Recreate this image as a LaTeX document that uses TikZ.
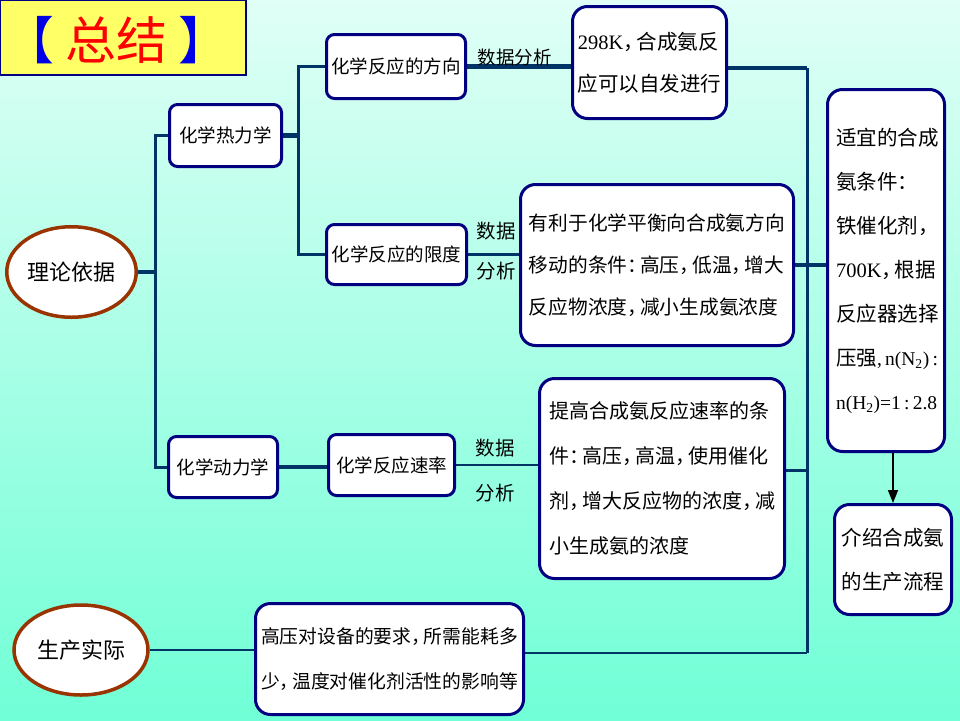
\documentclass[tikz,border=0pt]{standalone}
\usepackage{fontspec}
\setmainfont{Noto Sans CJK SC}
\newfontfamily\lat{Liberation Serif}
\usetikzlibrary{shapes.geometric,arrows.meta}
\definecolor{bgtop}{RGB}{224,255,246}
\definecolor{bgbot}{RGB}{112,255,214}
\definecolor{boxblue}{RGB}{0,0,128}
\definecolor{linec}{RGB}{0,51,102}
\definecolor{brownc}{RGB}{153,51,0}
\definecolor{titley}{RGB}{255,255,102}
\definecolor{brblue}{RGB}{0,0,230}
\definecolor{titred}{RGB}{255,0,0}
\newcommand{\fsz}[2]{\fontsize{#1}{#2}\selectfont}
\newcommand{\cma}{\makebox[0.65em][l]{，}}
\newcommand{\cln}{\makebox[0.65em][l]{：}}
\newcommand{\sml}[1]{{\lat\fontsize{19.5}{44}\selectfont #1}}
\pgfdeclarelayer{bg}
\pgfsetlayers{bg,main}
\tikzset{
  sbox/.style={rectangle, draw=boxblue, line width=3pt, fill=white, rounded corners=8pt, inner sep=0pt, font=\fsz{18.5}{22}},
  bbox/.style={rectangle, draw=boxblue, line width=3pt, fill=white, rounded corners=15pt, inner sep=0pt, align=left, font=\fsz{20}{42}},
  oval/.style={ellipse, draw=brownc, line width=3.5pt, fill=white, inner sep=0pt, font=\fsz{22}{24}},
  conn/.style={draw=linec, line width=2.5pt},
  tconn/.style={draw=linec, line width=4.5pt},
  lbl/.style={inner sep=0pt, font=\fsz{19.5}{22}},
}
\begin{document}
\begin{tikzpicture}[x=1pt,y=-1pt]
\useasboundingbox (0,0) rectangle (960,720);

% title
\draw[fill=titley, draw=boxblue, line width=1.2pt] (0.6,0.6) rectangle (246,75);
\node[inner sep=0pt, font=\fsz{51}{56}] (title) at (116,40) {{\color{brblue}【}\hspace{11pt}{\color{titred}总结}\hspace{11pt}{\color{brblue}】}};

% nodes
\node[oval, minimum width=129.5, minimum height=90.5] (theory) at (71.5,272) {理论依据};
\node[oval, minimum width=134, minimum height=90] (prod) at (81,650) {生产实际};

\node[sbox, minimum width=112, minimum height=62] (thermo) at (225.5,135.5) {化学热力学};
\node[sbox, minimum width=109, minimum height=61] (kin) at (223,467) {化学动力学};
\node[sbox, minimum width=139, minimum height=64] (dir) at (396,66.5) {化学反应的方向};
\node[sbox, minimum width=140, minimum height=60] (lim) at (396.5,254.5) {化学反应的限度};
\node[sbox, minimum width=126, minimum height=61] (rate) at (391.5,465) {化学反应速率};

\node[bbox, minimum width=154, minimum height=112, font=\fsz{20.5}{42}] (k298) at (649.5,62.5) {{\lat 298K}\cma 合成氨反\\应可以自发进行};
\node[bbox, minimum width=273, minimum height=161, font=\fsz{19.7}{42}] (favor) at (657,265) {有利于化学平衡向合成氨方向\\移动的条件\cln 高压\cma 低温\cma 增大\\反应物浓度\cma 减小生成氨浓度};
\node[bbox, minimum width=245, minimum height=200, font=\fsz{20}{45}] (raise) at (662,478.5) {提高合成氨反应速率的条\\件\cln 高压\cma 高温\cma 使用催化\\剂\cma 增大反应物的浓度\cma 减\\小生成氨的浓度};
\node[bbox, minimum width=117, minimum height=362, text width=100pt, font=\fsz{20.5}{44}] (suit) at (886,270.5) {适宜的合成\\氨条件\cln\\铁催化剂\cma\\{\lat 700K}\cma 根据\\反应器选择\\压强\sml{,\,n(N\textsubscript{2})\,:}\\\sml{n(H\textsubscript{2})=1\,:\,2.8}};
\node[bbox, minimum width=117, minimum height=110, font=\fsz{20.5}{44}] (intro) at (893,559.5) {介绍合成氨\\的生产流程};
\node[bbox, minimum width=268, minimum height=111, font=\fsz{18.8}{45}] (press) at (389.5,659) {高压对设备的要求\cma 所需能耗多\\少\cma 温度对催化剂活性的影响等};

% labels
\node[lbl, font=\fsz{18.5}{22}] (l1) at (514.5,57) {数据分析};
\node[lbl] (l2) at (496,231) {数据};
\node[lbl] (l3) at (496,271) {分析};
\node[lbl] (l4) at (495,448) {数据};
\node[lbl] (l5) at (495,493) {分析};

% helper coordinates
\coordinate (tr) at (155,272);
\coordinate (t2) at (298,135.5);
\coordinate (bt) at (807,68);
\coordinate (bb) at (807,653);

\begin{pgfonlayer}{bg}
\shade[top color=bgtop, bottom color=bgbot] (0,0) rectangle (960,720);
\draw[tconn] (theory.east) -- (tr);
\draw[conn, line width=3pt] (thermo.west) -- ++(-13,0) |- (kin.west);
\draw[tconn] (thermo.east) -- (t2);
\draw[conn, line width=3pt] (dir.west) -- ++(-27,0) |- (lim.west);
\draw[tconn] (dir.east) -- (dir.east -| k298.west);
\draw[tconn] (k298.east |- bt) -- (bt);
\draw[conn, line width=3pt] (bt) -- (bb);
\draw[tconn] (favor.east) -- (favor.east -| suit.west);
\draw[conn] ([yshift=8pt]raise.east) -- ([yshift=8pt]raise.east -| bt);
\draw[conn] ([yshift=6pt]press.east) -- (bb);
\draw[conn] (prod.east) -- (prod.east -| press.west);
\draw[conn] (lim.east) -- (lim.east -| favor.west);
\draw[conn] (rate.east) -- (rate.east -| raise.west);
\draw[tconn] (kin.east) -- (kin.east -| rate.west);
\end{pgfonlayer}

\draw[-{Triangle[length=13pt,width=10pt]}, line width=1.6pt, black] (suit.south -| intro.north) -- (intro.north);
\end{tikzpicture}
\end{document}
